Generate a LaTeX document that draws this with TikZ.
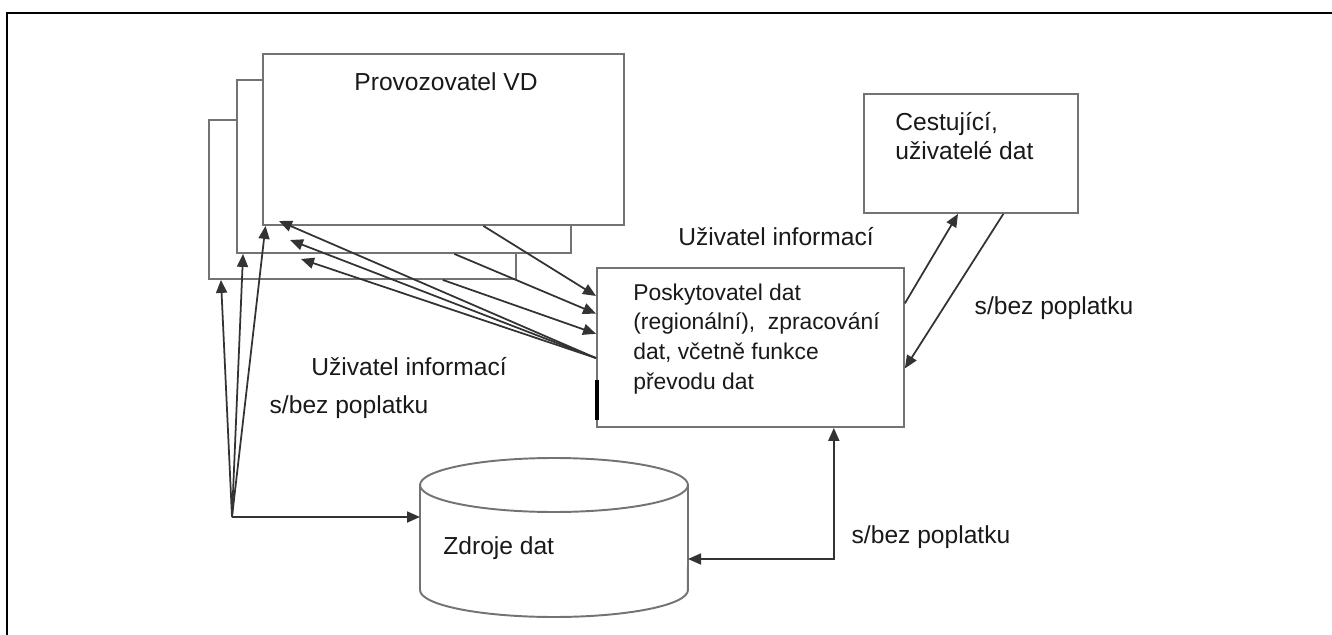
\documentclass[tikz,border=0pt]{standalone}
\usepackage{fontspec}
\setmainfont{Liberation Sans}
\usetikzlibrary{arrows.meta,calc}

\begin{document}
\begin{tikzpicture}[x=0.02cm,y=-0.02cm,
  box/.style={draw=black!55,line width=1.1pt,fill=white,inner sep=0pt},
  lbl/.style={text=black!90,font=\fontsize{14}{17}\selectfont,inner sep=0pt},
  pfeil/.style={draw=black!80,line width=1pt,-{Triangle[length=2.6mm,width=2.2mm]}}]
\useasboundingbox (0,0) rectangle (1332,635);
\draw[line width=1.4pt] (7,645) -- (7,13) -- (1345,13);
% Stapel der Betreiber
\node[box,anchor=north west,minimum width=6.14cm,minimum height=3.18cm] (vdC) at (208,119) {};
\node[box,anchor=north west,minimum width=6.68cm,minimum height=3.46cm] (vdB) at (236,79) {};
\node[box,anchor=north west,minimum width=7.22cm,minimum height=3.42cm] (vdA) at (262,53) {};
\node[lbl] (vd) at (446,82) {Provozovatel VD};
\node[box,anchor=north west,minimum width=4.28cm,minimum height=2.38cm] (cest) at (863,93) {};
\node[lbl,anchor=west,align=left] (cesttext) at (895,136) {Cestující,\\uživatelé dat};
\node[box,anchor=north west,minimum width=6.14cm,minimum height=3.18cm] (posk) at (596,267) {};
\node[lbl,anchor=west,align=left,font=\fontsize{13}{17}\selectfont] (posktext) at (633,339) {Poskytovatel dat\\(regionální),\ \ zpracování\\dat, včetně funkce\\převodu dat};
\draw[line width=1.8pt] ([xshift=0.6pt]$(posk.north west)!0.7!(posk.south west)$) -- ([xshift=0.6pt]$(posk.north west)!0.95!(posk.south west)$);
% Datenquelle
\draw[box] (420,485) -- (420,590) arc[start angle=180,end angle=360,x radius=2.68cm,y radius=0.54cm] -- (688,485);
\draw[box] (554,485) ellipse[x radius=2.68cm,y radius=0.54cm];
\coordinate (zdrojL) at (420,517);
\coordinate (zdrojR) at (688,559);
\node[lbl,anchor=west] (zdroje) at (443,548) {Zdroje dat};
\node[lbl] (uzivA) at (776,237) {Uživatel informací};
\node[lbl] (uzivB) at (409,367) {Uživatel informací};
\node[lbl] (poplA) at (349,407) {s/bez poplatku};
\node[lbl] (poplB) at (1054,308) {s/bez poplatku};
\node[lbl] (poplC) at (931,537) {s/bez poplatku};
% Pfeile
\draw[pfeil] ($(vdA.south west)!0.61!(vdA.south east)$) -- ($(posk.north west)!0.18!(posk.south west)$);
\draw[pfeil] ($(vdB.south west)!0.65!(vdB.south east)$) -- ($(posk.north west)!0.29!(posk.south west)$);
\draw[pfeil] ($(vdC.south west)!0.76!(vdC.south east)$) -- ($(posk.north west)!0.415!(posk.south west)$);
\coordinate (posk-out) at ($(posk.north west)!0.566!(posk.south west)$);
\coordinate (ruckA) at (279,221);
\coordinate (ruckB) at (290,240);
\coordinate (ruckC) at (301,259);
\foreach \z in {A,B,C} \draw[pfeil] (posk-out) -- (ruck\z);
\coordinate (gabel) at (232,517);
\draw[pfeil] (gabel) -- ($(vdC.south west)!0.042!(vdC.south east)$);
\draw[pfeil] (gabel) -- ($(vdB.south west)!0.021!(vdB.south east)$);
\draw[pfeil] (gabel) -- ([xshift=2pt]vdA.south west);
\draw[pfeil] (gabel) -- (zdrojL);
\draw[pfeil] ($(posk.north east)!0.226!(posk.south east)$) -- ($(cest.south west)!0.44!(cest.south east)$);
\draw[pfeil] ($(cest.south west)!0.65!(cest.south east)$) -- ($(posk.north east)!0.63!(posk.south east)$);
\draw[pfeil,{Triangle[length=2.6mm,width=2.2mm]}-{Triangle[length=2.6mm,width=2.2mm]}] (zdrojR) -| ($(posk.south west)!0.77!(posk.south east)$);
\end{tikzpicture}
\end{document}
